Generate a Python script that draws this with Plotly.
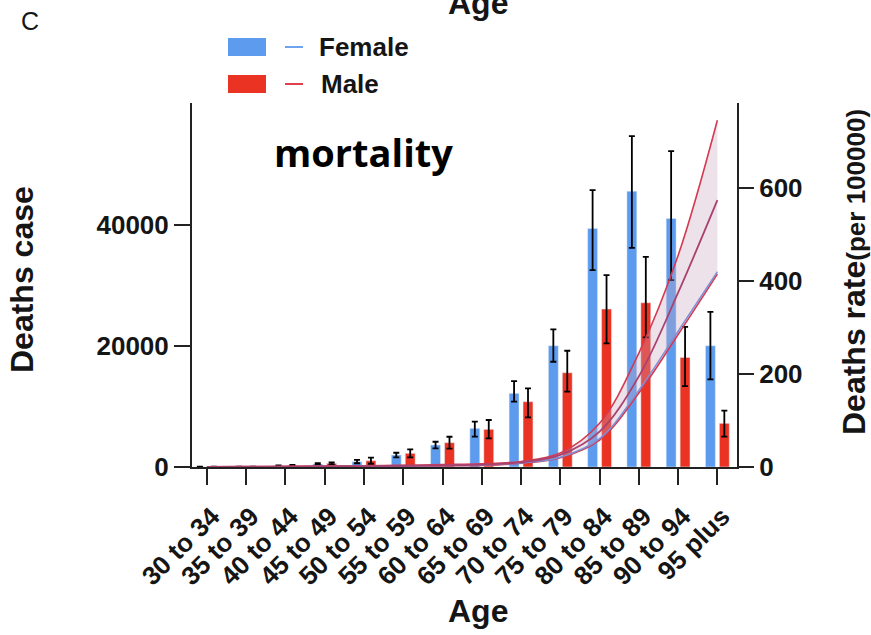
import plotly.graph_objects as go

# Age groups
age_groups = ["30 to 34", "35 to 39", "40 to 44", "45 to 49", "50 to 54", "55 to 59",
              "60 to 64", "65 to 69", "70 to 74", "75 to 79", "80 to 84", "85 to 89",
              "90 to 94", "95 plus"]

# Death cases by sex, with asymmetric uncertainty
female_cases = [30, 40, 220, 500, 870, 1980, 3640, 6390, 12180, 20050, 39460, 45620, 41110, 20050]
female_err_up = [10, 15, 60, 120, 300, 380, 540, 1100, 2030, 2700, 6330, 9090, 11120, 5620]
female_err_down = [10, 15, 60, 120, 250, 380, 560, 1380, 1380, 2640, 6900, 9370, 10200, 5550]

male_cases = [30, 50, 280, 600, 1040, 2260, 4020, 6230, 10800, 15590, 26120, 27160, 18130, 7220]
male_err_up = [10, 20, 80, 150, 500, 660, 980, 1540, 2200, 3640, 5620, 7600, 5060, 2090]
male_err_down = [10, 20, 80, 150, 500, 660, 980, 1490, 2600, 3140, 5670, 5730, 4740, 2210]

# Death rate per 100000 (fitted curve with uncertainty band)
rate_upper = [0.6, 0.9, 1.3, 1.9, 2.7, 3.8, 5.2, 7.0, 12, 30, 94, 245, 455, 746]
rate_male = [0.4, 0.6, 0.9, 1.3, 1.9, 2.7, 3.7, 5.0, 10, 26, 76, 195, 375, 574]
rate_female = [0.3, 0.5, 0.7, 1.0, 1.5, 2.1, 2.9, 4.0, 8.5, 21, 61, 165, 292, 420]
rate_lower = [0.2, 0.4, 0.6, 0.9, 1.3, 1.8, 2.5, 3.5, 8, 20, 58, 159, 285, 415]

BLUE = "#5C9BEE"
RED = "#EA3323"
LINE_RED = "#D43A52"
LINE_PURPLE = "#A9416E"
LINE_BLUE = "#7E8FD6"
BAND = "rgba(200,165,190,0.32)"
FONT = "Liberation Sans"
INK = "#151515"

fig = go.Figure()

fig.add_trace(go.Bar(
    x=age_groups, y=female_cases, name="Female", marker_color=BLUE,
    error_y=dict(type="data", symmetric=False, array=female_err_up,
                 arrayminus=female_err_down, color="black", thickness=1.8, width=3),
    showlegend=False,
))
fig.add_trace(go.Bar(
    x=age_groups, y=male_cases, name="Male", marker_color=RED,
    error_y=dict(type="data", symmetric=False, array=male_err_up,
                 arrayminus=male_err_down, color="black", thickness=1.8, width=3),
    showlegend=False,
))

# Rate curves on the secondary axis
fig.add_trace(go.Scatter(
    x=age_groups, y=rate_lower, yaxis="y2", mode="lines",
    line=dict(color=LINE_RED, width=1.6, shape="spline"), showlegend=False,
))
fig.add_trace(go.Scatter(
    x=age_groups, y=rate_upper, yaxis="y2", mode="lines", fill="tonexty",
    fillcolor=BAND, line=dict(color=LINE_RED, width=1.6, shape="spline"), showlegend=False,
))
fig.add_trace(go.Scatter(
    x=age_groups, y=rate_female, yaxis="y2", mode="lines",
    line=dict(color=LINE_BLUE, width=1.4, shape="spline"), showlegend=False,
))
fig.add_trace(go.Scatter(
    x=age_groups, y=rate_male, yaxis="y2", mode="lines",
    line=dict(color=LINE_PURPLE, width=1.8, shape="spline"), showlegend=False,
))

# Plot area in pixels
L, R, T, B = 192, 737, 103, 467
W, H = 871, 635


def px(xp):
    return (xp - L) / (R - L)


def py(yp):
    return (B - yp) / (B - T)


shapes = []
annotations = []

# Legend: bar swatch + line sample + label
for (yc, color, lcolor, label, tx) in [(47, BLUE, "#6FA3EE", "Female", 317),
                                       (84, RED, "#E0404A", "Male", 319)]:
    shapes.append(dict(type="rect", xref="paper", yref="paper",
                       x0=px(228), x1=px(266), y0=py(yc + 9), y1=py(yc - 9),
                       fillcolor=color, line=dict(width=0)))
    shapes.append(dict(type="line", xref="paper", yref="paper",
                       x0=px(285), x1=px(303), y0=py(yc), y1=py(yc),
                       line=dict(color=lcolor, width=2)))
    annotations.append(dict(text=label, xref="paper", yref="paper", x=px(tx), y=py(yc),
                            xanchor="left", yanchor="middle", showarrow=False,
                            font=dict(family=FONT, size=26, color=INK, weight="bold")))

annotations += [
    dict(text="C", xref="paper", yref="paper", x=px(30), y=py(21), showarrow=False,
         xanchor="center", yanchor="middle", font=dict(family=FONT, size=25, color=INK)),
    dict(text="Age", xref="paper", yref="paper", x=px(478), y=py(3), showarrow=False,
         xanchor="center", yanchor="middle",
         font=dict(family=FONT, size=32, color=INK, weight="bold")),
    dict(text="mortality", xref="paper", yref="paper", x=px(363), y=py(152), showarrow=False,
         xanchor="center", yanchor="middle",
         font=dict(family="Open Sans", size=38, color="#000", weight="bold")),
    dict(text="Deaths case", xref="paper", yref="paper", x=px(22), y=py(280), showarrow=False,
         textangle=-90, xanchor="center", yanchor="middle",
         font=dict(family=FONT, size=32, color=INK, weight="bold")),
    dict(text="Deaths rate<span style='font-size:26px'>(per 100000)</span>",
         xref="paper", yref="paper", x=px(854), y=py(272), showarrow=False,
         textangle=-90, xanchor="center", yanchor="middle",
         font=dict(family=FONT, size=32, color=INK, weight="bold")),
    dict(text="Age", xref="paper", yref="paper", x=px(478), y=py(611), showarrow=False,
         xanchor="center", yanchor="middle",
         font=dict(family=FONT, size=32, color=INK, weight="bold")),
]

tickfont = dict(family=FONT, size=26, color=INK, weight="bold")
axis_common = dict(showgrid=False, zeroline=False, showline=True, linecolor="#222",
                   linewidth=2, ticks="outside", tickwidth=2, tickcolor="#222",
                   tickfont=tickfont)

fig.update_layout(
    width=W, height=H,
    margin=dict(l=L, r=W - R, t=T, b=H - B),
    paper_bgcolor="white", plot_bgcolor="white",
    barmode="group", bargap=0.29, bargroupgap=0.29,
    shapes=shapes, annotations=annotations,
    xaxis=dict(range=[-0.38, 13.5], ticklen=16, tickangle=-45,
               ticklabelstandoff=6, ticklabelshift=5, **axis_common),
    yaxis=dict(range=[0, 60200], tickvals=[0, 20000, 40000], tickformat="d",
               ticklen=16, **axis_common),
    yaxis2=dict(range=[0, 783], tickvals=[0, 200, 400, 600], overlaying="y", side="right",
                ticklen=15, **axis_common),
)

fig.write_html("out.html")
